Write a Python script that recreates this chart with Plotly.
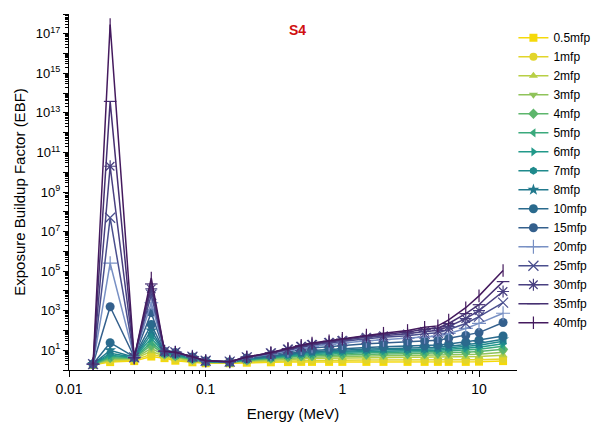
import plotly.graph_objects as go

# Photon energies (MeV)
energy = [0.015, 0.02, 0.03, 0.04, 0.05, 0.06, 0.08, 0.1, 0.15, 0.2, 0.3, 0.4, 0.5,
          0.6, 0.8, 1, 1.5, 2, 3, 4, 5, 6, 8, 10, 15]

# Exposure buildup factors for sample S4 at each penetration depth (mfp)
ebf_05 = [1.82, 2.51, 2.82, 4.79, 3.98, 2.95, 2.45, 2.19, 2.19, 2.34, 2.45, 2.51, 2.57,
          2.57, 2.57, 2.57, 2.57, 2.57, 2.57, 2.57, 2.57, 2.57, 2.57, 2.63, 2.82]
ebf_1 = [1.86, 2.82, 3.16, 6.31, 4.47, 3.39, 2.69, 2.29, 2.29, 2.57, 2.75, 2.88, 2.95,
         3.02, 3.09, 3.09, 3.16, 3.16, 3.16, 3.16, 3.16, 3.16, 3.16, 3.31, 3.55]
ebf_2 = [1.91, 3.16, 3.55, 8.91, 5.01, 3.98, 2.95, 2.40, 2.34, 2.75, 3.16, 3.47, 3.63,
         3.80, 3.89, 3.98, 4.17, 4.17, 4.27, 4.27, 4.37, 4.47, 4.57, 4.79, 5.62]
ebf_3 = [1.91, 3.63, 3.80, 12.6, 5.62, 4.47, 3.16, 2.51, 2.40, 2.95, 3.47, 3.98, 4.27,
         4.47, 4.68, 4.90, 5.13, 5.25, 5.37, 5.50, 5.62, 5.89, 6.03, 6.31, 7.94]
ebf_4 = [1.95, 4.17, 3.98, 17.8, 6.31, 5.01, 3.39, 2.57, 2.45, 3.09, 3.80, 4.57, 5.01,
         5.25, 5.62, 5.89, 6.31, 6.46, 6.61, 6.76, 7.08, 7.59, 7.94, 8.51, 11.2]
ebf_5 = [1.95, 4.79, 4.17, 25.1, 6.92, 5.50, 3.63, 2.63, 2.45, 3.24, 4.07, 5.01, 5.62,
         6.03, 6.46, 6.92, 7.41, 7.59, 7.76, 8.13, 8.51, 9.33, 10.0, 11.2, 15.8]
ebf_6 = [2.0, 5.62, 4.27, 39.8, 7.41, 5.89, 3.80, 2.69, 2.51, 3.39, 4.37, 5.50, 6.17,
         6.76, 7.41, 7.94, 8.51, 8.91, 9.12, 9.55, 10.0, 11.2, 12.6, 14.1, 21.4]
ebf_7 = [2.0, 7.08, 4.37, 63.1, 7.76, 6.31, 3.98, 2.75, 2.51, 3.55, 4.57, 5.89, 6.76,
         7.59, 8.32, 9.12, 10.0, 10.5, 10.7, 11.2, 12.0, 13.2, 15.8, 17.8, 28.2]
ebf_8 = [2.0, 10.0, 4.47, 100, 7.94, 6.61, 4.17, 2.75, 2.51, 3.63, 4.79, 6.31, 7.41,
         8.32, 9.33, 10.2, 11.5, 12.0, 12.6, 13.2, 14.1, 15.8, 19.1, 22.4, 35.5]
ebf_10 = [2.0, 24.0, 4.57, 200, 8.32, 7.08, 4.37, 2.82, 2.57, 3.80, 5.13, 6.92, 8.32,
          9.55, 11.0, 12.0, 13.8, 14.8, 15.8, 17.0, 18.6, 20.9, 26.3, 33.1, 52.5]
ebf_15 = [2.0, 1580, 4.57, 794, 8.51, 7.59, 4.57, 2.88, 2.57, 4.07, 5.89, 8.51, 10.7,
          12.9, 15.5, 17.8, 21.4, 23.4, 26.3, 29.5, 31.6, 39.8, 56.2, 77.6, 251]
ebf_20 = [2.0, 2.51e5, 4.47, 2510, 8.71, 7.76, 4.68, 2.88, 2.63, 4.27, 6.46, 9.77, 12.9,
          15.8, 19.5, 23.4, 30.2, 33.9, 39.8, 47.9, 52.5, 70.8, 126, 229, 741]
ebf_25 = [2.0, 5.01e7, 4.37, 6310, 8.71, 7.76, 4.68, 2.95, 2.63, 4.37, 6.92, 10.7, 14.5,
          18.2, 22.9, 28.2, 38.0, 44.7, 53.7, 67.6, 75.9, 112, 224, 501, 2570]
ebf_30 = [2.0, 2.0e10, 4.27, 12600, 8.91, 7.94, 4.68, 2.95, 2.63, 4.47, 7.24, 11.5, 15.8,
          20.0, 25.7, 32.4, 45.7, 53.7, 67.6, 89.1, 100, 158, 398, 1000, 9330]
ebf_35 = [2.0, 3.8e13, 4.17, 22400, 8.91, 7.94, 4.68, 2.95, 2.63, 4.57, 7.41, 12.0, 17.0,
          21.4, 28.2, 36.3, 52.5, 63.1, 83.2, 115, 132, 224, 708, 2000, 29500]
ebf_40 = [2.0, 2.95e17, 3.98, 44700, 8.91, 7.94, 4.68, 2.95, 2.63, 4.57, 7.59, 12.6, 17.8,
          22.9, 30.2, 39.8, 58.9, 72.4, 100, 145, 170, 339, 1410, 5620, 107000]

series_names = ["0.5mfp", "1mfp", "2mfp", "3mfp", "4mfp", "5mfp", "6mfp", "7mfp", "8mfp",
                "10mfp", "15mfp", "20mfp", "25mfp", "30mfp", "35mfp", "40mfp"]
series_values = [ebf_05, ebf_1, ebf_2, ebf_3, ebf_4, ebf_5, ebf_6, ebf_7, ebf_8,
                 ebf_10, ebf_15, ebf_20, ebf_25, ebf_30, ebf_35, ebf_40]
series_colors = ["#f5d90a", "#e2d52a", "#b8cf45", "#8fc35a", "#5db66c", "#3aa97c",
                 "#22998a", "#1f8a8c", "#21798d", "#2a6a8d", "#34608d", "#7890c4",
                 "#4a4f8e", "#494081", "#463072", "#441a5e"]
series_symbols = ["square", "circle", "triangle-up", "triangle-down", "diamond",
                  "triangle-left", "triangle-right", "hexagon", "star", "circle", "circle",
                  "cross-thin", "x-thin", "asterisk", "line-ew", "line-ns"]
series_sizes = [8, 8, 8, 8, 8, 8, 8, 8, 9, 9, 9, 10, 10, 10, 9, 9]

y_tick_powers = list(range(1, 18, 2))
x_tick_vals = [0.01, 0.1, 1, 10]
x_tick_text = ["0.01", "0.1", "1", "10"]

FONT = "Liberation Sans, Arial, sans-serif"

fig = go.Figure()
for name, vals, col, sym, sz in zip(series_names, series_values, series_colors,
                                     series_symbols, series_sizes):
    thin = sym in ("cross-thin", "x-thin", "asterisk", "line-ew", "line-ns")
    fig.add_trace(go.Scatter(
        x=energy, y=vals, name=name, mode="lines+markers",
        line=dict(color=col, width=1.5),
        marker=dict(symbol=sym, size=sz, color=col,
                    line=dict(color=col, width=1.2 if thin else 0)),
    ))

minor_y = [m * 10 ** k for k in range(0, 18) for m in range(2, 10)]
minor_x = [m * 10 ** k for k in range(-2, 2) for m in range(2, 10)]

fig.update_layout(
    width=597, height=423,
    margin=dict(l=69, r=80, t=14, b=53, autoexpand=False),
    paper_bgcolor="white", plot_bgcolor="white",
    font=dict(family=FONT, size=13, color="black"),
    showlegend=True,
    legend=dict(xref="container", yref="container", x=0.86, xanchor="left",
                y=0.945, yanchor="top", maxheight=400,
                bgcolor="rgba(0,0,0,0)", font=dict(size=12), traceorder="normal",
                tracegroupgap=0),
    annotations=[dict(text="<b>S4</b>", x=0.511, y=0.956, xref="paper", yref="paper",
                      xanchor="center", yanchor="middle", showarrow=False,
                      font=dict(size=14, color="#d01010", family=FONT))],
)

fig.update_xaxes(
    type="log", range=[-2, 1.278],
    tickmode="array", tickvals=x_tick_vals, ticktext=x_tick_text,
    ticks="outside", ticklen=6, tickwidth=1, tickcolor="black",
    minor=dict(tickmode="array", tickvals=minor_x, ticks="outside", ticklen=3,
               tickcolor="black", showgrid=False),
    showline=True, linecolor="black", linewidth=1, showgrid=False, zeroline=False,
    tickfont=dict(size=14),
    title=dict(text="Energy (MeV)", font=dict(size=15), standoff=12),
)

fig.update_yaxes(
    type="log", range=[0, 18],
    tickmode="array",
    tickvals=[10 ** p for p in range(0, 19)],
    ticktext=[("10<sup>%d</sup>" % p) if p in y_tick_powers else "" for p in range(0, 19)],
    ticks="outside", ticklen=5, tickwidth=1, tickcolor="black",
    minor=dict(tickmode="array", tickvals=minor_y, ticks="outside", ticklen=3,
               tickcolor="black", showgrid=False),
    showline=True, linecolor="black", linewidth=1, showgrid=False, zeroline=False,
    tickfont=dict(size=13),
    title=dict(text="Exposure Buildup Factor (EBF)", font=dict(size=15), standoff=6),
)

fig.write_html("out.html")
